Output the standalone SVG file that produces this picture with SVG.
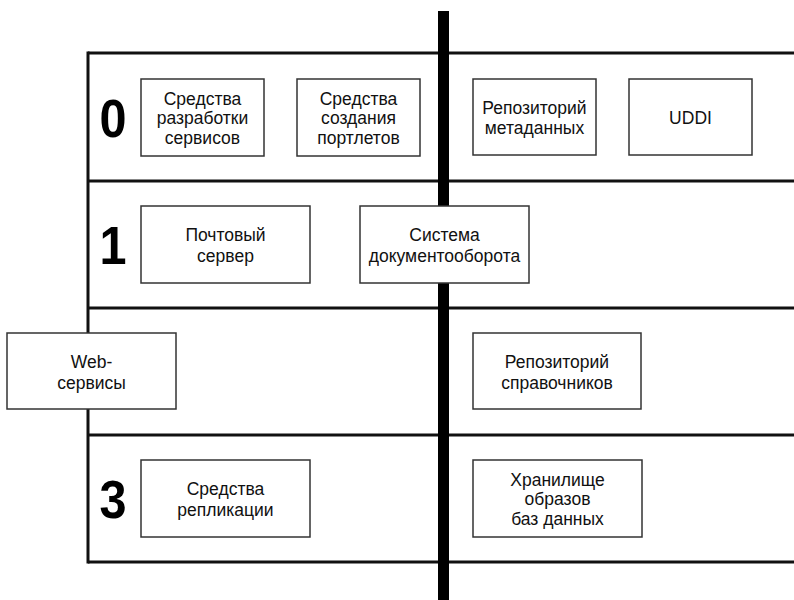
<svg xmlns="http://www.w3.org/2000/svg" width="794" height="600" viewBox="0 0 794 600">
<style>
.lane{fill:none;stroke:#111;stroke-width:3}
.box{fill:#fff;stroke:#333;stroke-width:1.5}
.t{font-family:"Liberation Sans",Arial,sans-serif;font-size:17.5px;fill:#111;text-anchor:middle}
.d{font-family:"Liberation Sans",Arial,sans-serif;font-size:54px;font-weight:bold;fill:#000;text-anchor:middle}
</style>
<rect width="794" height="600" fill="#fff"/>
<g id="lanes">
<line class="lane" x1="88" y1="53" x2="794" y2="53"/>
<line class="lane" x1="88" y1="181" x2="794" y2="181"/>
<line class="lane" x1="88" y1="308" x2="794" y2="308"/>
<line class="lane" x1="88" y1="435" x2="794" y2="435"/>
<line class="lane" x1="88" y1="562" x2="794" y2="562"/>
<line class="lane" x1="88" y1="51.5" x2="88" y2="563.5"/>
<text class="d" transform="translate(113 136.5) scale(0.9 1)">0</text>
<text class="d" transform="translate(113 264) scale(0.9 1)">1</text>
<text class="d" transform="translate(113 518) scale(0.9 1)">3</text>
</g>
<g id="connectors">
<rect x="438" y="11" width="11" height="589" fill="#000"/>
</g>
<g id="n-dev">
<rect class="box" x="141" y="79" width="123" height="77"/>
<text class="t" x="202.5" y="104.5">Средства</text>
<text class="t" x="202.5" y="124">разработки</text>
<text class="t" x="202.5" y="143.5">сервисов</text>
</g>
<g id="n-portlets">
<rect class="box" x="297" y="79" width="123" height="77"/>
<text class="t" x="358.5" y="104.5">Средства</text>
<text class="t" x="358.5" y="124">создания</text>
<text class="t" x="358.5" y="143.5">портлетов</text>
</g>
<g id="n-meta">
<rect class="box" x="473" y="79" width="123" height="76"/>
<text class="t" x="534.5" y="114">Репозиторий</text>
<text class="t" x="534.5" y="134">метаданных</text>
</g>
<g id="n-uddi">
<rect class="box" x="629" y="79" width="123" height="76"/>
<text class="t" x="690.5" y="123.5">UDDI</text>
</g>
<g id="n-mail">
<rect class="box" x="141" y="206" width="169" height="77"/>
<text class="t" x="225.5" y="240.5">Почтовый</text>
<text class="t" x="225.5" y="261.5">сервер</text>
</g>
<g id="n-docs">
<rect class="box" x="360" y="206" width="169" height="77"/>
<text class="t" x="444.5" y="240.5">Система</text>
<text class="t" x="444.5" y="261.5">документооборота</text>
</g>
<g id="n-web">
<rect class="box" x="7" y="333" width="169" height="76"/>
<text class="t" x="91.5" y="367.5">Web-</text>
<text class="t" x="91.5" y="388.5">сервисы</text>
</g>
<g id="n-ref">
<rect class="box" x="473" y="333" width="168" height="76"/>
<text class="t" x="557" y="367.5">Репозиторий</text>
<text class="t" x="557" y="388.5">справочников</text>
</g>
<g id="n-repl">
<rect class="box" x="141" y="460" width="169" height="77"/>
<text class="t" x="225.5" y="494.5">Средства</text>
<text class="t" x="225.5" y="515.5">репликации</text>
</g>
<g id="n-store">
<rect class="box" x="473" y="460" width="169" height="77"/>
<text class="t" x="557.5" y="485.5">Хранилище</text>
<text class="t" x="557.5" y="505">образов</text>
<text class="t" x="557.5" y="524.5">баз данных</text>
</g>
</svg>
